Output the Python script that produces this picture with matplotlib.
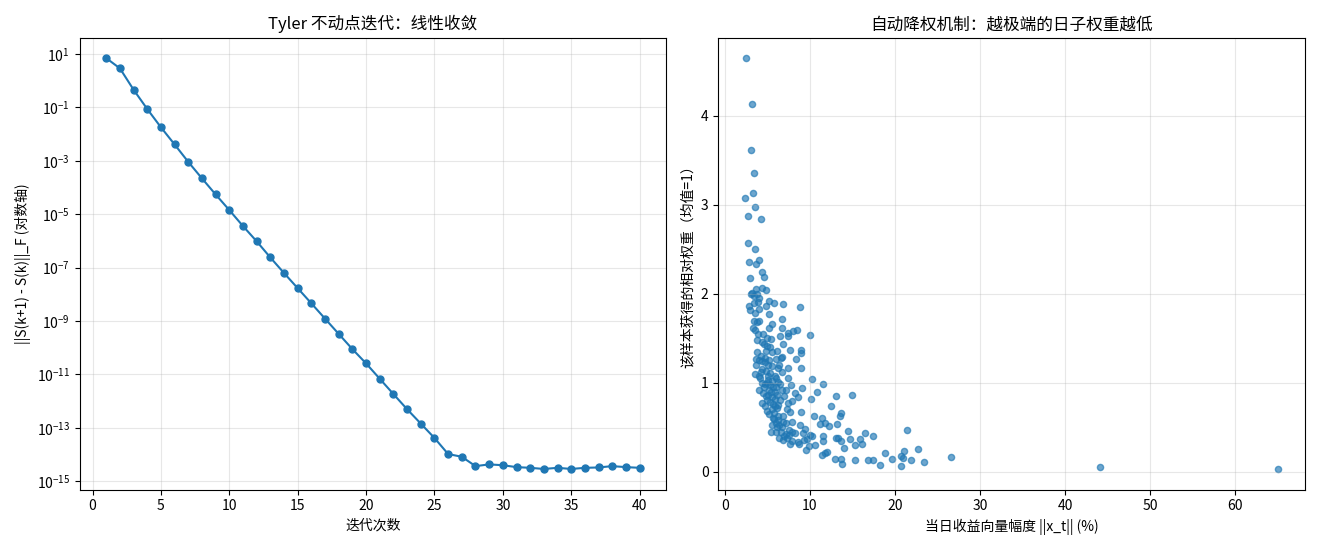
import matplotlib
matplotlib.use("Agg")
import matplotlib.pyplot as plt
import numpy as np
from matplotlib.ticker import NullLocator

plt.rcParams['font.family'] = ['Noto Sans CJK SC', 'DejaVu Sans']
plt.rcParams['axes.unicode_minus'] = False

# 左图: Tyler 迭代的残差
iters = list(range(1, 41))
resid = [7.0, 2.9, 0.46, 0.087, 0.018, 4.1e-3, 9.1e-4, 2.2e-4, 5.5e-5, 1.43e-5,
         3.6e-6, 9.7e-7, 2.4e-7, 6.3e-8, 1.7e-8, 4.6e-9, 1.23e-9, 3.3e-10, 8.9e-11, 2.6e-11,
         6.9e-12, 1.85e-12, 5.0e-13, 1.45e-13, 4.2e-14, 1.05e-14, 8.3e-15, 3.7e-15, 4.3e-15, 4.0e-15,
         3.4e-15, 3.2e-15, 2.9e-15, 3.2e-15, 2.9e-15, 3.2e-15, 3.3e-15, 3.7e-15, 3.4e-15, 3.2e-15]

# 右图: 每日收益幅度 vs 相对权重
pts = [
    (2.48, 4.65), (3.24, 4.13), (3.12, 3.62), (3.43, 3.36), (3.31, 3.13), (2.36, 3.08),
    (3.60, 2.98), (2.71, 2.87), (4.19, 2.84), (2.71, 2.57), (3.60, 2.50), (2.83, 2.36),
    (4.02, 2.38), (3.71, 2.33), (4.31, 2.24), (4.62, 2.19), (2.95, 2.18), (4.38, 2.07),
    (3.71, 2.05), (4.79, 2.04), (3.24, 2.01), (3.12, 2.00), (3.43, 1.98), (3.83, 2.00),
    (3.90, 1.91), (3.43, 1.90), (5.18, 1.92), (5.77, 1.90), (6.88, 1.88), (2.80, 1.86),
    (2.95, 1.82), (3.99, 1.83), (4.82, 1.86), (8.79, 1.85), (5.18, 1.77), (6.76, 1.72),
    (3.43, 1.69), (3.75, 1.68), (3.99, 1.69), (5.57, 1.66), (3.31, 1.62), (3.51, 1.59),
    (5.18, 1.62), (6.76, 1.62), (8.48, 1.59), (8.07, 1.58), (7.48, 1.56), (7.40, 1.53),
    (6.49, 1.53), (9.98, 1.54), (5.42, 1.49), (3.83, 1.48), (4.31, 1.46), (4.62, 1.44),
    (6.88, 1.43), (4.90, 1.41), (8.99, 1.37), (8.99, 1.33), (7.60, 1.37), (4.79, 1.36),
    (6.13, 1.36), (6.76, 1.29), (6.61, 1.28), (8.39, 1.27), (3.67, 1.27), (5.98, 1.27),
    (5.18, 1.25), (4.31, 1.24), (4.70, 1.23), (3.67, 1.20), (5.10, 1.20), (5.50, 1.19),
    (6.37, 1.20), (6.29, 1.17), (8.90, 1.17), (7.40, 1.17), (4.31, 1.15), (4.79, 1.13),
    (5.30, 1.11), (6.69, 1.12), (3.99, 1.08), (5.89, 1.07), (7.40, 1.05), (10.21, 1.04),
    (5.02, 1.03), (5.50, 1.02), (6.29, 1.01), (11.52, 0.99), (4.70, 0.98), (5.30, 0.97),
    (5.98, 0.95), (7.80, 0.97), (9.02, 0.94), (3.99, 0.92), (6.69, 0.92), (7.17, 0.92),
    (10.81, 0.90), (5.10, 0.86), (5.50, 0.84), (5.89, 0.82), (6.49, 0.80), (8.19, 0.88),
    (8.60, 0.84), (13.12, 0.85), (14.94, 0.86), (10.10, 0.82), (7.95, 0.79), (7.48, 0.77),
    (4.31, 0.77), (4.70, 0.74), (12.44, 0.74), (5.89, 0.74), (6.10, 0.71), (8.90, 0.67),
    (7.60, 0.67), (13.67, 0.66), (13.55, 0.62), (10.54, 0.62), (11.45, 0.60), (5.81, 0.59),
    (6.29, 0.58), (6.88, 0.56), (7.95, 0.56), (7.20, 0.55), (11.76, 0.55), (11.13, 0.53),
    (13.19, 0.54), (8.87, 0.52), (12.24, 0.51), (5.57, 0.52), (6.10, 0.50), (6.69, 0.50),
    (9.38, 0.48), (5.42, 0.45), (5.98, 0.45), (7.56, 0.47), (7.95, 0.45), (14.50, 0.46),
    (16.52, 0.44), (21.43, 0.47), (7.17, 0.42), (7.56, 0.41), (8.27, 0.43), (9.14, 0.43),
    (10.26, 0.40), (9.98, 0.41), (11.57, 0.40), (17.38, 0.40), (13.12, 0.38), (13.33, 0.38),
    (14.74, 0.37), (15.89, 0.37), (6.40, 0.38), (6.88, 0.36), (9.26, 0.36), (9.70, 0.37),
    (7.95, 0.35), (8.63, 0.33), (8.75, 0.31), (7.60, 0.31), (11.52, 0.35), (13.60, 0.34),
    (16.13, 0.31), (15.26, 0.30), (10.65, 0.30), (9.86, 0.29), (9.55, 0.24), (14.02, 0.27),
    (18.79, 0.21), (11.76, 0.21), (11.45, 0.19), (12.05, 0.22), (20.77, 0.18), (21.05, 0.23),
    (20.98, 0.15), (20.77, 0.06), (22.68, 0.25), (21.88, 0.13), (23.43, 0.11), (19.70, 0.14),
    (26.64, 0.17), (12.95, 0.14), (13.67, 0.14), (13.81, 0.09), (15.33, 0.13), (16.88, 0.13),
    (17.48, 0.13), (18.19, 0.08), (44.14, 0.05), (65.10, 0.03),
    # 密集区
    (4.1, 1.05), (4.4, 1.00), (4.6, 0.95), (4.9, 1.00), (5.2, 0.92), (5.4, 0.90),
    (5.6, 0.95), (4.5, 0.88), (4.8, 0.85), (5.0, 0.80), (5.3, 0.78), (5.6, 0.76),
    (5.9, 0.90), (6.1, 0.86), (4.9, 0.68), (5.2, 0.65), (5.5, 0.70), (5.8, 0.66),
    (6.2, 0.62), (5.6, 0.60), (6.0, 0.55), (6.4, 0.52), (6.6, 0.45), (7.0, 0.40),
    (7.3, 0.38), (6.8, 0.62), (5.1, 1.08), (4.3, 1.12), (4.0, 1.25), (3.8, 1.35),
    (4.2, 1.30), (3.9, 1.55), (4.5, 1.55), (5.0, 1.50), (3.6, 1.78), (4.0, 1.95),
    (5.5, 1.35), (6.0, 1.05), (6.5, 0.98), (7.0, 0.85), (7.3, 0.70), (6.3, 0.75),
    (4.7, 1.28), (5.3, 1.40), (3.5, 1.10),
]
mag = [p[0] for p in pts]
weight = [p[1] for p in pts]

fig, (ax1, ax2) = plt.subplots(1, 2, figsize=(13.2, 5.5), dpi=100)

ax1.semilogy(iters, resid, 'o-', color='#1f77b4', markersize=5, linewidth=1.5)
ax1.set_yticks([10.0 ** k for k in range(-15, 2, 2)])
ax1.yaxis.set_minor_locator(NullLocator())
ax1.set_xlabel('迭代次数')
ax1.set_ylabel('||S(k+1) - S(k)||_F (对数轴)')
ax1.set_title('Tyler 不动点迭代：线性收敛', fontsize=12)
ax1.grid(True, alpha=0.3)

ax2.scatter(mag, weight, s=20, alpha=0.65, color='#1f77b4')
ax2.set_xlabel('当日收益向量幅度 ||x_t|| (%)')
ax2.set_ylabel('该样本获得的相对权重（均值=1）')
ax2.set_title('自动降权机制：越极端的日子权重越低', fontsize=12)
ax2.grid(True, alpha=0.3)

plt.tight_layout()
plt.savefig('out.png')
